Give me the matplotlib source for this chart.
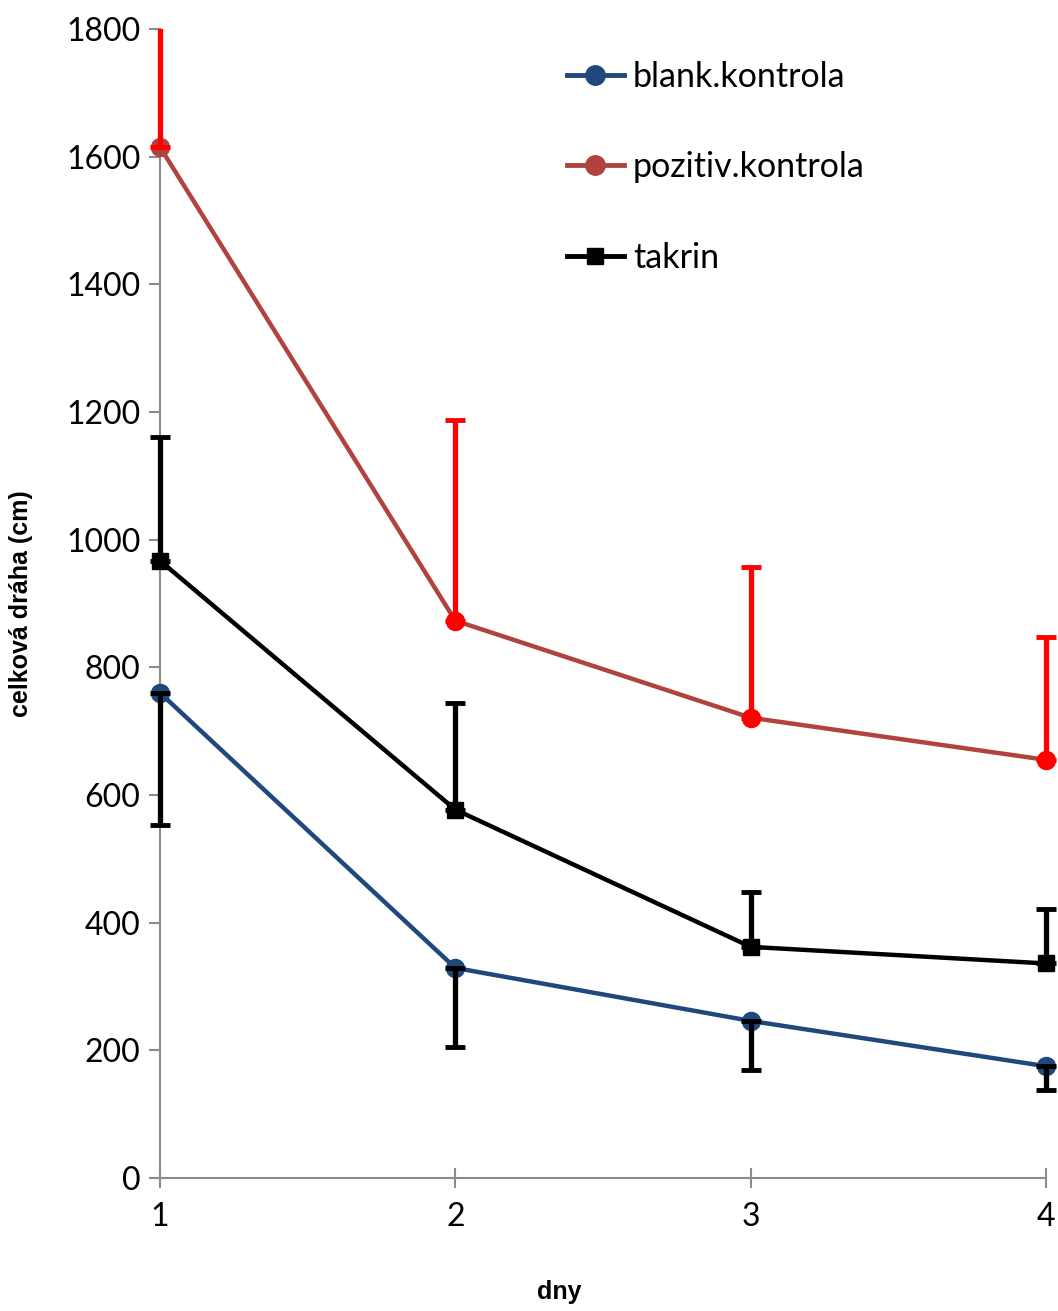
import numpy as np
import matplotlib
matplotlib.use("Agg")
import matplotlib.pyplot as plt
from matplotlib.lines import Line2D
from matplotlib.patches import Rectangle

# data
days = [1, 2, 3, 4]
blank = [760, 329, 246, 175]
blank_err_minus = [207, 124, 77, 37]
pozitiv = [1615, 873, 721, 655]
pozitiv_err_plus = [300, 314, 236, 192]
takrin = [967, 577, 362, 336]
takrin_err_plus = [194, 167, 86, 85]

labels = ["blank.kontrola", "pozitiv.kontrola", "takrin"]

# colours
c_blank = "#1F497D"
c_poz = "#B0433E"
c_red = "#FF0000"
poz_marker_colors = [c_poz, c_red, c_red, c_red]

plt.rcParams["font.family"] = ["Lato", "DejaVu Sans"]

fig = plt.figure(figsize=(10.58, 13.11), dpi=100)
ax = fig.add_axes([0.1512, 0.1015, 0.8375, 0.8764])

zero = np.zeros(len(days))

# lines
ax.plot(days, blank, color=c_blank, lw=3.2, marker="o", ms=13,
        mfc=c_blank, mec=c_blank, clip_on=False, zorder=3)
ax.plot(days, pozitiv, color=c_poz, lw=3.2, zorder=3, clip_on=False)
for d, v, c in zip(days, pozitiv, poz_marker_colors):
    ax.plot([d], [v], marker="o", ms=13, mfc=c, mec=c, ls="none",
            clip_on=False, zorder=4)
ax.plot(days, takrin, color="black", lw=3.2, marker="s", ms=11,
        mfc="black", mec="black", clip_on=False, zorder=3)

# error bars (clipped only at top/bottom so the edge caps stay whole)
clip_rect = Rectangle((-0.05, 0), 1.1, 1, transform=ax.transAxes)
eb_kw = dict(fmt="none", elinewidth=3.8, capsize=7, capthick=3.5, zorder=5)
ebs = [
    ax.errorbar(days, pozitiv, yerr=[zero, pozitiv_err_plus], ecolor=c_red, **eb_kw),
    ax.errorbar(days, takrin, yerr=[zero, takrin_err_plus], ecolor="black", **eb_kw),
    ax.errorbar(days, blank, yerr=[blank_err_minus, zero], ecolor="black", **eb_kw),
]
for eb in ebs:
    for art in list(eb[1]) + list(eb[2]):
        art.set_clip_path(clip_rect)

ax.set_xlim(1, 4)
ax.set_ylim(0, 1800)
ax.set_xticks(days)
ax.set_yticks(np.arange(0, 1801, 200))

for s in ["top", "right"]:
    ax.spines[s].set_visible(False)
for s in ["left", "bottom"]:
    ax.spines[s].set_color("#8C8C8C")
    ax.spines[s].set_linewidth(1.5)

ax.tick_params(axis="y", direction="out", length=8, width=1.5,
               color="#8C8C8C", labelsize=23, pad=6)
ax.tick_params(axis="x", direction="inout", length=15, width=1.5,
               color="#8C8C8C", labelsize=23, pad=10)

ax.set_ylabel("celková dráha (cm)", fontsize=18, fontweight="bold",
              family=["Liberation Sans", "DejaVu Sans"])
ax.set_xlabel("dny", fontsize=18, fontweight="bold",
              family=["Liberation Sans", "DejaVu Sans"])
ax.yaxis.set_label_coords(-0.143, 0.5)
ax.xaxis.set_label_coords(0.451, -0.089)

handles = [
    Line2D([], [], color=c_blank, lw=3.5, marker="o", ms=14),
    Line2D([], [], color=c_poz, lw=3.5, marker="o", ms=14),
    Line2D([], [], color="black", lw=3.5, marker="s", ms=12),
]
ax.legend(handles, labels, loc="upper left", bbox_to_anchor=(0.432, 0.993),
          frameon=False, fontsize=24.5, handlelength=1.7, handletextpad=0.25,
          labelspacing=1.72, borderaxespad=0.3)

fig.savefig("out.png", dpi=100)
